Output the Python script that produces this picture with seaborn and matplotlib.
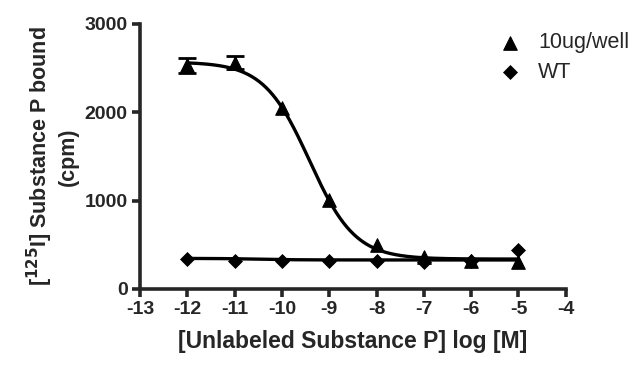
import numpy as np
import pandas as pd
import matplotlib
matplotlib.use('Agg')
import matplotlib.pyplot as plt
import seaborn as sns

sns.set_style('ticks')
plt.rcParams['font.family'] = ['Liberation Sans', 'DejaVu Sans']
plt.rcParams['axes.unicode_minus'] = False

log_conc = [-12, -11, -10, -9, -8, -7, -6, -5]
bound_10ug = [2530, 2560, 2050, 1008, 498, 362, 317, 305]
err_10ug = [85, 75, 0, 0, 0, 0, 0, 0]
bound_wt = [343, 320, 315, 312, 313, 305, 318, 442]

# fitted one-site competition parameters
fit_10ug = dict(top=2570, bottom=338, logic50=-9.42, hill=0.9)
fit_wt = dict(top=346, bottom=328, logic50=-10.5, hill=1.0)


def sigmoid(x, top, bottom, logic50, hill):
    return bottom + (top - bottom) / (1 + 10 ** ((x - logic50) * hill))


xs = np.linspace(-12, -5, 300)
curves = pd.DataFrame({
    'x': np.concatenate([xs, xs]),
    'y': np.concatenate([sigmoid(xs, **fit_10ug), sigmoid(xs, **fit_wt)]),
    'grp': ['10ug/well'] * len(xs) + ['WT'] * len(xs),
})

fig = plt.figure(figsize=(6.4, 3.69), dpi=100)
ax = fig.add_axes([0.219, 0.217, 0.665, 0.718])

sns.lineplot(data=curves, x='x', y='y', hue='grp', palette=['black', 'black'],
             linewidth=2.4, legend=False, ax=ax)

ax.errorbar(log_conc[:2], bound_10ug[:2], yerr=err_10ug[:2], fmt='none',
            ecolor='black', elinewidth=2, capsize=6.5, capthick=2)
sns.scatterplot(x=log_conc, y=bound_10ug, marker='^', s=95, color='black',
                edgecolor='black', ax=ax, label='10ug/well', zorder=5)
sns.scatterplot(x=log_conc, y=bound_wt, marker='D', s=50, color='black',
                edgecolor='black', ax=ax, label='WT', zorder=5)

ax.set_xlim(-13, -4)
ax.set_ylim(0, 3000)
ax.set_xticks(range(-13, -3))
ax.set_yticks([0, 1000, 2000, 3000])
sns.despine(ax=ax)
for s in ['left', 'bottom']:
    ax.spines[s].set_linewidth(2.6)
ax.tick_params(width=2.6, length=6, labelsize=14, pad=3)
for lab in ax.get_xticklabels() + ax.get_yticklabels():
    lab.set_fontweight('bold')

ax.set_xlabel('[Unlabeled Substance P] log [M]', fontsize=16.5,
              fontweight='bold', labelpad=8)
ax.set_ylabel('[$\\mathbf{^{125}}$I] Substance P bound\n(cpm)', fontsize=15.5,
              fontweight='bold', linespacing=1.2, labelpad=4)

h, l = ax.get_legend_handles_labels()
ax.legend_.remove()
fig.legend(h, l, loc='upper left', bbox_to_anchor=(0.74, 0.965), frameon=False,
           fontsize=15.5, handletextpad=0.5, labelspacing=0.4, handlelength=1.6)

fig.savefig('out.png', dpi=100)
